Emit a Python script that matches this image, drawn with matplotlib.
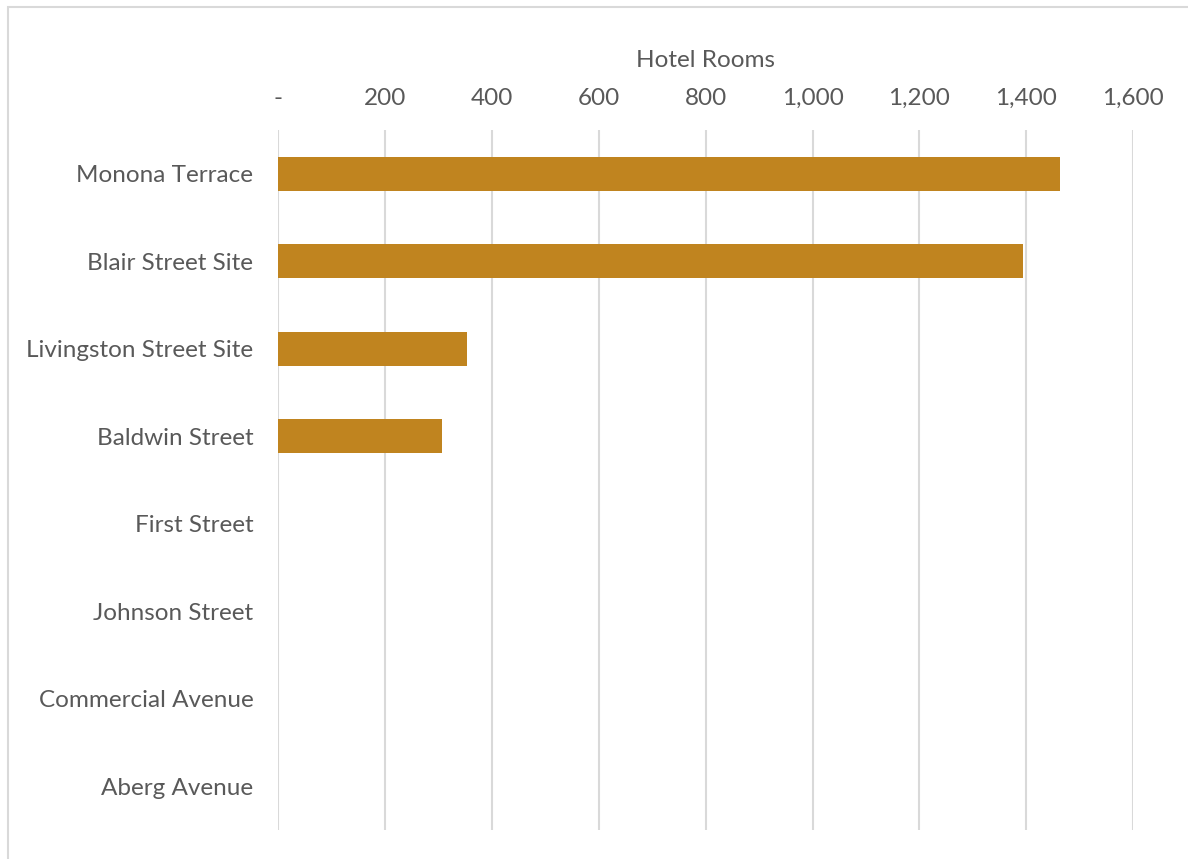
import matplotlib
matplotlib.use('Agg')
import matplotlib.pyplot as plt
from matplotlib.patches import Rectangle

# data
sites = ['Monona Terrace', 'Blair Street Site', 'Livingston Street Site', 'Baldwin Street',
         'First Street', 'Johnson Street', 'Commercial Avenue', 'Aberg Avenue']
rooms = [1463, 1395, 354, 306, 0, 0, 0, 0]
ticks = [0, 200, 400, 600, 800, 1000, 1200, 1400, 1600]
tick_labels = ['-', '200', '400', '600', '800', '1,000', '1,200', '1,400', '1,600']

plt.rcParams['font.family'] = ['Lato', 'DejaVu Sans']
txt = '#595959'

fig = plt.figure(figsize=(11.88, 8.59), dpi=100)
ax = fig.add_axes([0.2343, 0.0338, 0.7194, 0.8149])

ypos = list(range(len(sites)))
ax.barh(ypos, rooms, height=0.39, color='#C0841F', zorder=3)

ax.set_xlim(0, 1600)
ax.set_ylim(len(sites) - 0.5, -0.5)
ax.set_yticks(ypos)
ax.set_yticklabels(sites, fontsize=17.5, color=txt)
ax.set_xticks(ticks)
ax.set_xticklabels(tick_labels, fontsize=17.5, color=txt)
ax.xaxis.tick_top()
ax.xaxis.set_label_position('top')
ax.set_xlabel('Hotel Rooms', fontsize=17.5, color=txt, labelpad=15)
ax.tick_params(axis='x', length=0, pad=15)
ax.tick_params(axis='y', length=0, pad=18)
ax.grid(axis='x', color='#D9D9D9', linewidth=1.5, zorder=0)
for s in ax.spines.values():
    s.set_visible(False)

# outer chart border
fig.patches.append(Rectangle((0.007, -0.01), 1.0, 1.002, transform=fig.transFigure,
                             fill=False, edgecolor='#D9D9D9', linewidth=1.5))

fig.savefig('out.png', dpi=100)
